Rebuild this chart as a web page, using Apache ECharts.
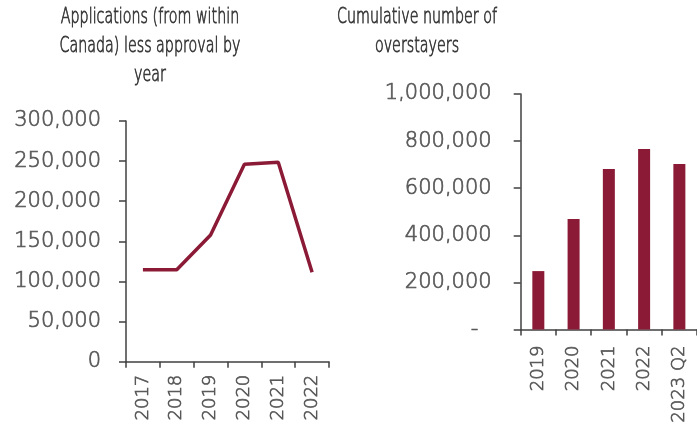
<!DOCTYPE html>
<html><head><meta charset="utf-8">
<script src="https://cdn.jsdelivr.net/npm/echarts@6/dist/echarts.min.js"></script>
<style>html,body{margin:0;padding:0;background:#fff}#c{width:697px;height:426px}</style>
</head><body><div id="c"></div>
<script>
const lineCategories = ['2017','2018','2019','2020','2021','2022'];
const lineValues = [114500, 114500, 158000, 246000, 248500, 111500];
const barCategories = ['2019','2020','2021','2022','2023 Q2'];
const barValues = [248000, 469000, 682000, 766000, 703000];
const leftTitle = 'Applications (from within\nCanada) less approval by\nyear';
const rightTitle = 'Cumulative number of\noverstayers';

const RED = '#8b1a36';
const AXIS = '#404040';
const LABEL = '#595959';
const FONT = '"DejaVu Sans", sans-serif';
const TFONT = '"DejaVu Sans", sans-serif';
const fmt = v => v.toString().replace(/\B(?=(\d{3})+(?!\d))/g, ',');
const lbl = (size, extra) => Object.assign({color:LABEL, fontFamily:FONT, fontWeight:200, fontSize:size,
  textBorderColor:LABEL, textBorderWidth:0.7}, extra);

const chart = echarts.init(document.getElementById('c'), null, {renderer:'canvas'});
chart.setOption({
  animation: false,
  graphic: [
    {type:'text', x:150, y:3, scaleX:0.68, style:{text:leftTitle, align:'center', verticalAlign:'top', font:'200 21px ' + TFONT, lineHeight:29, fill:'#3a3a3a', stroke:'#3a3a3a', lineWidth:0.8}},
    {type:'text', x:417, y:3, scaleX:0.68, style:{text:rightTitle, align:'center', verticalAlign:'top', font:'200 21px ' + TFONT, lineHeight:29, fill:'#3a3a3a', stroke:'#3a3a3a', lineWidth:0.8}}
  ],
  grid: [
    {left:126, top:121, width:203, height:240.7},
    {left:520.7, top:94, width:181.7, height:236.7}
  ],
  xAxis: [
    {type:'category', gridIndex:0, data:lineCategories, boundaryGap:true,
     axisLine:{lineStyle:{color:AXIS, width:1.5}},
     axisTick:{show:true, length:6, lineStyle:{color:AXIS, width:1.5}},
     axisLabel:lbl(18, {rotate:90, margin:13})},
    {type:'category', gridIndex:1, data:barCategories,
     axisLine:{lineStyle:{color:AXIS, width:1.5}},
     axisTick:{show:true, length:6, lineStyle:{color:AXIS, width:1.5}},
     axisLabel:lbl(18, {rotate:90, margin:16})}
  ],
  yAxis: [
    {type:'value', gridIndex:0, min:0, max:300000, interval:50000,
     axisLine:{show:true, lineStyle:{color:AXIS, width:1.5}},
     axisTick:{show:true, length:7, lineStyle:{color:AXIS, width:1.5}},
     splitLine:{show:false},
     axisLabel:lbl(21, {margin:25, formatter:fmt})},
    {type:'value', gridIndex:1, min:0, max:1000000, interval:200000,
     axisLine:{show:true, lineStyle:{color:AXIS, width:1.5}},
     axisTick:{show:true, length:7, lineStyle:{color:AXIS, width:1.5}},
     splitLine:{show:false},
     axisLabel:lbl(21, {margin:29, formatter: v => v === 0 ? '-  ' : fmt(v)})}
  ],
  series: [
    {type:'line', xAxisIndex:0, yAxisIndex:0, data:lineValues, symbol:'none',
     lineStyle:{color:RED, width:3.5}},
    {type:'bar', xAxisIndex:1, yAxisIndex:1, data:barValues, barWidth:12,
     itemStyle:{color:RED}}
  ]
});
</script></body></html>
